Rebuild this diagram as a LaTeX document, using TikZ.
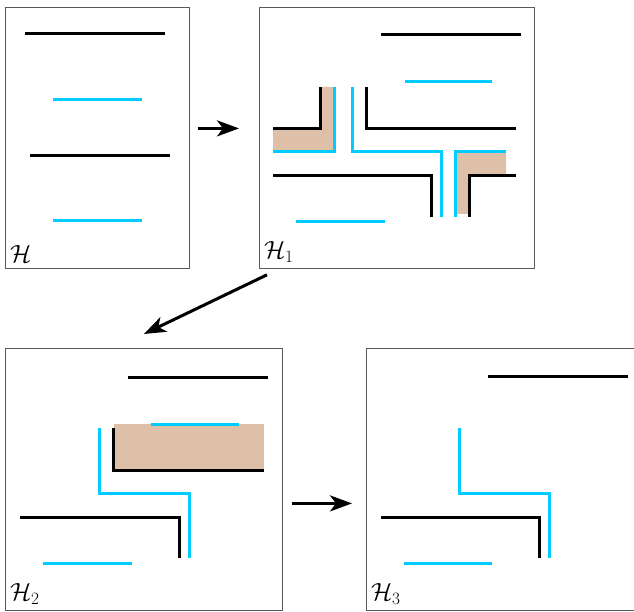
\documentclass[tikz,border=0pt]{standalone}
\usepackage{amsmath,amssymb}
\usepackage{tikz}
\usetikzlibrary{arrows.meta}

\definecolor{wallcyan}{RGB}{0,204,255}
\definecolor{walltan}{RGB}{222,191,168}

\tikzset{
  panel/.style={draw=black!65, line width=0.8pt, anchor=north west, inner sep=0pt},
  blackwall/.style={line width=3pt, black},
  cyanwall/.style={line width=3pt, wallcyan},
  tanfill/.style={fill=walltan, draw=none},
  stepar/.style={-{Stealth[length=22pt,width=16pt,inset=6pt]}, line width=3pt},
  panellabel/.style={anchor=south west, inner xsep=5pt, inner ysep=6pt, font=\fontsize{25}{30}\selectfont}
}

\begin{document}
\begin{tikzpicture}[x=1pt,y=-1pt]
            \useasboundingbox (0,0) rectangle (634,612);
            % Draw panels
            \node[panel, minimum width=184pt, minimum height=261pt] (H) at (5,7) {};
            \node[panel, minimum width=275pt, minimum height=261pt] (H1) at (259,7) {};
            \node[panel, minimum width=277pt, minimum height=262pt] (H2) at (5,348) {};
            \node[panel, minimum width=267.5pt, minimum height=262pt] (H3) at (366,348) {};
            % Label panels
            \node[panellabel] (lH) at (H.south west) {$\mathcal{H}$};
            \node[panellabel] (lH1) at (H1.south west) {$\mathcal{H}_1$};
            \node[panellabel] (lH2) at (H2.south west) {$\mathcal{H}_2$};
            \node[panellabel] (lH3) at (H3.south west) {$\mathcal{H}_3$};
            % Panel H
            \draw[blackwall] (25,34) -- (165,34);
            \draw[cyanwall] (53,100) -- (142,100);
            \draw[blackwall] (30,156) -- (170,156);
            \draw[cyanwall] (53,221) -- (142,221);
            % Panel H1
            \fill[tanfill] (320,87) -- (334,87) -- (334,152) -- (273,152) -- (273,129) -- (320,129) -- cycle;
            \fill[tanfill] (455,152) -- (506,152) -- (506,176) -- (469,176) -- (469,214) -- (455,214) -- cycle;
            \draw[blackwall] (381,35) -- (521,35);
            \draw[cyanwall] (405,82) -- (492,82);
            \draw[blackwall] (320,87) -- (320,129) -- (273,129);
            \draw[cyanwall] (334,87) -- (334,152) -- (273,152);
            \draw[cyanwall] (352,87) -- (352,152) -- (441,152) -- (441,217);
            \draw[blackwall] (366,87) -- (366,129) -- (516,129);
            \draw[blackwall] (273,176) -- (431,176) -- (431,217);
            \draw[cyanwall] (455,217) -- (455,152) -- (506,152);
            \draw[blackwall] (469,217) -- (469,176) -- (516,176);
            \draw[cyanwall] (296,222) -- (385,222);
            % Panel H2
            \fill[tanfill] (114,424) rectangle (264,470);
            \draw[blackwall] (128,377) -- (268,377);
            \draw[cyanwall] (151,424) -- (239,424);
            \draw[blackwall] (113,428) -- (113,470) -- (264,470);
            \draw[cyanwall] (99,428) -- (99,493) -- (189,493) -- (189,558);
            \draw[blackwall] (20,517) -- (179,517) -- (179,558);
            \draw[cyanwall] (43,563) -- (132,563);
            % Panel H3
            \draw[blackwall] (488,376) -- (628,376);
            \draw[cyanwall] (459,428) -- (459,493) -- (549,493) -- (549,558);
            \draw[blackwall] (381,517) -- (539,517) -- (539,558);
            \draw[cyanwall] (404,563) -- (492,563);
            % Draw steps
            \draw[stepar, shorten <=8pt, shorten >=20pt] ([yshift=9.5pt]H.east) -- ([yshift=9.5pt]H1.west);
            \draw[stepar] ([xshift=8pt,yshift=-6pt]H1.south west) -- ([yshift=14pt]H2.north);
            \draw[stepar, shorten <=9pt, shorten >=14pt] ([yshift=-24pt]H2.east) -- ([yshift=-24pt]H3.west);
        \end{tikzpicture}
\end{document}
